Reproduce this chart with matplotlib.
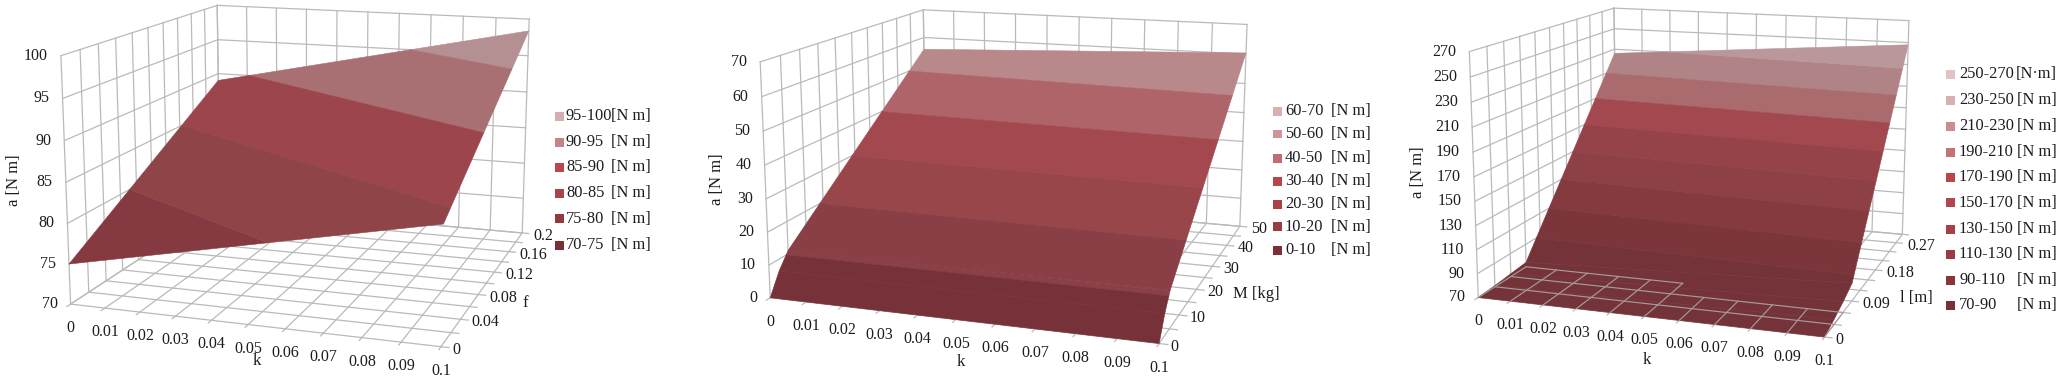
import numpy as np
import matplotlib
matplotlib.use('Agg')
import matplotlib.pyplot as plt
from matplotlib.patches import Rectangle
from mpl_toolkits.mplot3d import proj3d
from mpl_toolkits.mplot3d.art3d import Poly3DCollection

plt.rcParams['font.family'] = ['Liberation Serif', 'DejaVu Serif']

W, H = 2065, 381
GRID = '#bababa'
TEXT = '#1c1c1c'

# k axis, shared by all three charts
k_ticks = np.arange(0, 0.101, 0.01)
k_labels = ['0', '0.01', '0.02', '0.03', '0.04', '0.05', '0.06', '0.07', '0.08', '0.09', '0.1']

# chart 1: a over k and f
f_vals = [0, 0.2]
k1_vals = [0, 0.1]
a1_vals = [[75, 84], [89, 98.4]]
f_ticks = np.arange(0, 0.201, 0.02)
f_label_vals = [0, 0.04, 0.08, 0.12, 0.16, 0.2]
f_labels = ['0', '0.04', '0.08', '0.12', '0.16', '0.2']
z1_ticks = [70, 75, 80, 85, 90, 95, 100]
bands1 = [75, 80, 85, 90, 95, 100]
band1_colors = ['#843a40', '#8f4448', '#9d454c', '#a97074', '#b59092']
legend1 = ['95-100', '90-95', '85-90', '80-85', '75-80', '70-75']
legend1_colors = ['#d4aeb0', '#c58487', '#b8484f', '#aa4249', '#94383f', '#7a2f37']

# chart 2: a over k and M
M_vals = [0, 2.5, 5, 50]
k2_vals = [0, 0.1]
a2_vals = [[0, 0], [6.4, 6.5], [11, 11.2], [55.7, 60.4]]
M_ticks = np.arange(0, 51, 5)
M_label_vals = [0, 10, 20, 30, 40, 50]
M_labels = ['0', '10', '20', '30', '40', '50']
z2_ticks = [0, 10, 20, 30, 40, 50, 60, 70]
bands2 = [0, 10, 11, 20, 30, 40, 50, 70]
band2_colors = ['#763238', '#8a4046', '#8a3e45', '#98464a', '#a3484e', '#ae6468', '#b9888a']
legend2 = ['60-70', '50-60', '40-50', '30-40', '20-30', '10-20', '0-10']
legend2_colors = ['#d7b0b2', '#cf9599', '#c06c71', '#b8444c', '#ab4047', '#983c43', '#7d3038']

# chart 3: a over k and l
l_vals = [0, 0.03, 0.06, 0.09, 0.3]
k3_vals = [0, 0.1]
a3_vals = [[70, 70], [71, 74], [72.5, 79], [74, 85], [226, 248]]
l_ticks = np.arange(0, 0.301, 0.03)
l_label_vals = [0, 0.09, 0.18, 0.27]
l_labels = ['0', '0.09', '0.18', '0.27']
z3_ticks = [70, 90, 110, 130, 150, 170, 190, 210, 230, 250, 270]
bands3 = [70, 90, 110, 130, 150, 170, 190, 210, 230, 270]
band3_colors = ['#743338', '#7c363b', '#853a40', '#8d4046', '#954248', '#a3484f', '#a96b6e', '#b08486', '#b9979a']
legend3 = ['250-270', '230-250', '210-230', '190-210', '170-190', '150-170', '130-150', '110-130', '90-110', '70-90']
legend3_colors = ['#e2c2c4', '#d9afb1', '#c98e90', '#c07478', '#b8444c', '#b3454c', '#a63f47', '#9b3c44', '#8a343c', '#7a2f37']

fig = plt.figure(figsize=(W / 100, H / 100), dpi=100)


def clip(poly, level, keep_above):
    # cut a polygon at height level, keeps one side
    out = []
    for i in range(len(poly)):
        p, q = poly[i], poly[(i + 1) % len(poly)]
        p_in = p[2] >= level if keep_above else p[2] <= level
        q_in = q[2] >= level if keep_above else q[2] <= level
        if p_in:
            out.append(p)
        if p_in != q_in:
            t = (level - p[2]) / (q[2] - p[2])
            out.append(tuple(p[j] + t * (q[j] - p[j]) for j in range(3)))
    return out


def surface(ax, xs, ys, zs, levels, colors):
    polys, cols = [], []
    for i in range(len(ys) - 1):
        for j in range(len(xs) - 1):
            a = (xs[j], ys[i], zs[i][j])
            b = (xs[j + 1], ys[i], zs[i][j + 1])
            c = (xs[j + 1], ys[i + 1], zs[i + 1][j + 1])
            d = (xs[j], ys[i + 1], zs[i + 1][j])
            for n, col in enumerate(colors):
                part = clip(clip([a, b, c, d], levels[n], True), levels[n + 1], False)
                if len(part) >= 3:
                    polys.append(part)
                    cols.append(col)
    ax.add_collection3d(Poly3DCollection(polys, facecolors=cols, edgecolors=cols, linewidths=0.4, zorder=3))


def chart(view, place, ys, y_label_vals, y_labels, zs, zlim):
    el, az, fl, a, b = view
    s, tx, ty = place
    size = s * 0.185
    ax = fig.add_axes([(tx - 0.095 * s) / W, 1 - (ty + 0.095 * s) / H, size / W, size / H], projection='3d')
    ax.computed_zorder = False
    ax.set_axis_off()
    ax.patch.set_alpha(0)
    ax.set_xlim(0, 0.1)
    ax.set_ylim(ys[0], ys[-1])
    ax.set_zlim(*zlim)
    ax.view_init(elev=el, azim=az)
    ax.set_proj_type('persp', focal_length=fl)
    ax.set_box_aspect((a, b, 1))
    x0, x1 = 0, 0.1
    y0, y1 = ys[0], ys[-1]
    z0, z1 = zlim
    line = dict(color=GRID, lw=0.9, zorder=1)
    for x in k_ticks:
        ax.plot([x, x], [y0, y1], [z0, z0], **line)
        ax.plot([x, x], [y1, y1], [z0, z1], **line)
        ax.plot([x, x], [y0, y0 - 0.02 * (y1 - y0)], [z0, z0], **line)
    for y in ys:
        ax.plot([x0, x1], [y, y], [z0, z0], **line)
        ax.plot([x0, x0], [y, y], [z0, z1], **line)
        ax.plot([x1, x1 + 0.002], [y, y], [z0, z0], **line)
    for z in zs:
        ax.plot([x0, x0], [y0, y1], [z, z], **line)
        ax.plot([x0, x1], [y1, y1], [z, z], **line)
    M = ax.get_proj()

    def label(x, y, z, text, dx, dy, ha):
        u, v, _ = proj3d.proj_transform(x, y, z, M)
        ax.annotate(text, (u, v), xytext=(dx, dy), textcoords='offset pixels', ha=ha, va='center',
                    fontsize=11.5, color=TEXT, annotation_clip=False, zorder=6)

    for x, t in zip(k_ticks, k_labels):
        label(x, y0, z0, t, 0, -24, 'center')
    for y, t in zip(y_label_vals, y_labels):
        label(x1, y, z0, t, 11, -3, 'left')
    for z in zs:
        label(x0, y0, z, str(z), -13, 0, 'right')
    return ax


def side_text(x, y, text, rotation=0, size=12):
    fig.text(x / W, 1 - y / H, text, ha='center', va='center', rotation=rotation, fontsize=size, color=TEXT)


def legend(names, colors, ys, box_x, text_x, unit_x, units):
    for name, col, y, u in zip(names, colors, ys, units):
        fig.patches.append(Rectangle((box_x / W, 1 - (y + 4.5) / H), 9 / W, 9 / H, transform=fig.transFigure,
                                     facecolor=col, edgecolor='none'))
        fig.text(text_x / W, 1 - y / H, name, ha='left', va='center', fontsize=11.8, color=TEXT)
        fig.text(unit_x / W, 1 - y / H, u, ha='right', va='center', fontsize=11.8, color=TEXT)


ax1 = chart((13.02, -71.468, 0.498, 1.513, 1.583), (2978.8, 313.9, 152.9), f_ticks, f_label_vals, f_labels, z1_ticks, (70, 100))
surface(ax1, k1_vals, f_vals, a1_vals, bands1, band1_colors)

ax2 = chart((13.141, -71.28, 0.47, 1.668, 1.702), (3028.7, 1024.0, 152.3), M_ticks, M_label_vals, M_labels, z2_ticks, (0, 70))
surface(ax2, k2_vals, M_vals, a2_vals, bands2, band2_colors)

ax3 = chart((12.602, -71.154, 0.513, 1.435, 1.469), (2807.9, 1705.6, 151.3), l_ticks, l_label_vals, l_labels, z3_ticks, (70, 270))
surface(ax3, k3_vals, l_vals, a3_vals, bands3, band3_colors)

# floor grid shows through the flat front part of chart 3
show = dict(color='#a79a9b', lw=0.85, zorder=4)
for y in l_ticks[1:3]:
    ax3.plot([0, 0.1], [y, y], [70, 70], **show)
ax3.plot([0, 0.05], [0.09, 0.09], [70, 70], **show)
for x in k_ticks:
    ax3.plot([x, x], [0, 0.09 if x <= 0.05 else 0.06], [70, 70], **show)

side_text(14, 180, 'a [N m]', 90)
side_text(257, 361, 'k')
side_text(525, 303, 'f')
side_text(717, 179, 'a [N m]', 90)
side_text(961, 362, 'k')
side_text(1256, 294, 'M [kg]')
side_text(1418, 172, 'a [N m]', 90)
side_text(1647, 360, 'k')
side_text(1916, 298, 'l [m]')

legend(legend1, legend1_colors, [116, 142, 167, 193, 219, 245], 555, 566, 651, ['[N m]'] * 6)
legend(legend2, legend2_colors, [111, 134, 158, 181, 204, 227, 250], 1273, 1285, 1371, ['[N m]'] * 7)
legend(legend3, legend3_colors, [74, 100, 126, 152, 177, 203, 229, 254, 280, 305], 1946, 1959, 2057,
       ['[N·m]'] + ['[N m]'] * 9)

fig.savefig('out.png', dpi=100)
